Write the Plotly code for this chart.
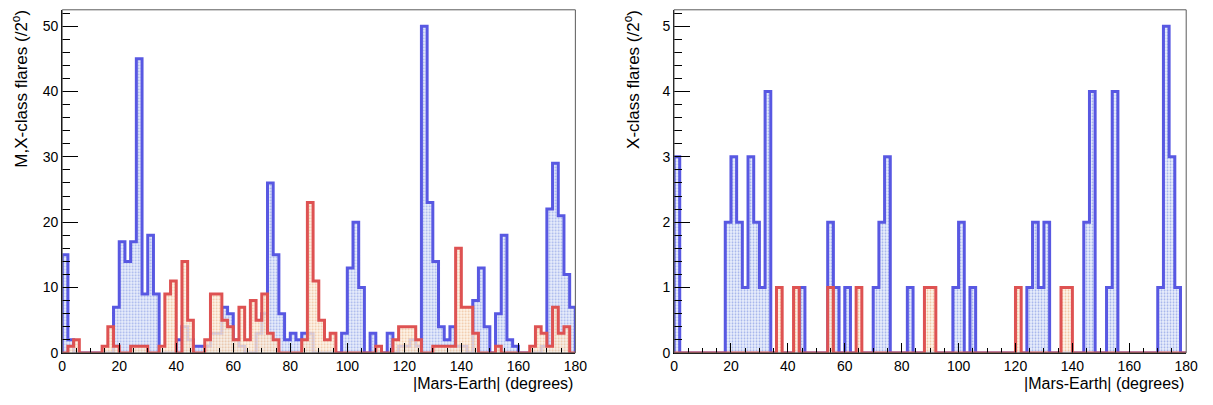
import plotly.graph_objects as go

# 2-degree bins over |Mars-Earth| angle, 0..180
bin_edges = list(range(0, 182, 2))

# Left panel: M,X-class flares per 2 degrees
mx_blue = [15, 2, 0, 0, 0, 0, 0, 0, 0, 7,
           17, 14, 17, 45, 9, 18, 9, 0, 0, 0,
           2, 4, 2, 1, 1, 1, 3, 3, 7, 6,
           2, 1, 0, 0, 3, 6, 26, 15, 6, 2,
           3, 2, 3, 3, 0, 0, 0, 0, 0, 3,
           13, 20, 10, 0, 3, 0, 0, 3, 0, 1,
           1, 2, 1, 50, 23, 14, 4, 2, 4, 1,
           1, 0, 8, 13, 4, 0, 6, 18, 2, 1,
           0, 0, 0, 0, 1, 22, 29, 21, 12, 7]
mx_red = [0, 1, 2, 0, 0, 0, 0, 1, 4, 1,
          0, 0, 1, 1, 1, 0, 0, 1, 9, 11,
          0, 14, 5, 0, 0, 2, 9, 9, 5, 4,
          2, 7, 2, 8, 5, 9, 3, 2, 0, 0,
          0, 0, 2, 23, 11, 5, 2, 3, 0, 0,
          0, 0, 0, 0, 0, 1, 0, 0, 2, 4,
          4, 4, 2, 0, 0, 1, 1, 1, 1, 16,
          7, 7, 3, 0, 0, 0, 1, 0, 0, 0,
          0, 0, 1, 4, 3, 1, 7, 3, 4, 0]

# Right panel: X-class flares per 2 degrees
x_blue = [3, 0, 0, 0, 0, 0, 0, 0, 0, 2,
          3, 2, 1, 3, 2, 1, 4, 0, 0, 0,
          0, 0, 1, 0, 0, 0, 0, 2, 1, 0,
          1, 0, 0, 0, 0, 1, 2, 3, 0, 0,
          0, 1, 0, 0, 0, 0, 0, 0, 0, 1,
          2, 0, 1, 0, 0, 0, 0, 0, 0, 0,
          0, 0, 1, 2, 1, 2, 0, 0, 0, 0,
          0, 0, 2, 4, 0, 0, 1, 4, 0, 0,
          0, 0, 0, 0, 0, 1, 5, 3, 1, 0]
x_red = [0, 0, 0, 0, 0, 0, 0, 0, 0, 0,
         0, 0, 0, 0, 0, 0, 0, 0, 1, 0,
         0, 1, 0, 0, 0, 0, 0, 1, 0, 0,
         0, 0, 1, 0, 0, 0, 0, 0, 0, 0,
         0, 0, 0, 0, 1, 1, 0, 0, 0, 0,
         0, 0, 0, 0, 0, 0, 0, 0, 0, 0,
         1, 0, 0, 0, 0, 0, 0, 0, 1, 1,
         0, 0, 0, 0, 0, 0, 0, 0, 0, 0,
         0, 0, 0, 0, 0, 0, 0, 0, 0, 0]

x_ticks = list(range(0, 181, 20))

BLUE = "rgb(88,88,226)"
RED = "rgb(222,82,82)"
FONT = "Liberation Sans, Arial, sans-serif"


def step_path(values):
    """Outline of a histogram: corners at every bin edge, closed to zero."""
    xs, ys = [bin_edges[0]], [0]
    for i, v in enumerate(values):
        xs += [bin_edges[i], bin_edges[i + 1]]
        ys += [v, v]
    xs.append(bin_edges[-1])
    ys.append(0)
    return xs, ys


def hist_trace(values, line_color, fg, bg, xa, ya):
    xs, ys = step_path(values)
    return go.Scatter(
        x=xs, y=ys, mode="lines", xaxis=xa, yaxis=ya,
        line=dict(color=line_color, width=3),
        fill="tozeroy", fillcolor=bg,
        fillpattern=dict(shape=".", size=3, solidity=0.3,
                         fgcolor=fg, bgcolor=bg, fillmode="replace"),
        hoverinfo="skip", showlegend=False,
    )


BLUE_FG, BLUE_BG = "rgba(150,168,232,0.9)", "rgba(228,234,251,0.75)"
RED_FG, RED_BG = "rgba(238,190,150,0.9)", "rgba(253,241,228,0.75)"

fig = go.Figure()
fig.add_trace(hist_trace(mx_blue, BLUE, BLUE_FG, BLUE_BG, "x", "y"))
fig.add_trace(hist_trace(mx_red, RED, RED_FG, RED_BG, "x", "y"))
fig.add_trace(hist_trace(x_blue, BLUE, BLUE_FG, BLUE_BG, "x2", "y2"))
fig.add_trace(hist_trace(x_red, RED, RED_FG, RED_BG, "x2", "y2"))

W, H = 1213, 405
top_px, bot_px = 10, 360
left_dom = [59 / W, 579 / W]
right_dom = [679 / W, 1198 / W]
ydom = [(H - bot_px) / H, (H - top_px) / H]

xaxis_common = dict(
    range=[0, 180], tickvals=x_ticks, ticktext=[str(t) for t in x_ticks],
    ticks="inside", ticklen=10, tickwidth=1, tickcolor="black",
    minor=dict(dtick=5, ticks="inside", ticklen=5, tickcolor="black"),
    showline=True, linecolor="black", linewidth=1,
    showgrid=False, zeroline=False,
    tickfont=dict(family=FONT, size=14, color="black"),
)
yaxis_common = dict(
    ticks="inside", ticklen=16, tickwidth=1, tickcolor="black",
    showline=True, linecolor="black", linewidth=1,
    showgrid=False, zeroline=False,
    tickfont=dict(family=FONT, size=14, color="black"),
)

fig.update_layout(
    width=W, height=H, margin=dict(l=0, r=0, t=0, b=0),
    paper_bgcolor="white", plot_bgcolor="white",
    xaxis=dict(xaxis_common, domain=left_dom, anchor="y"),
    yaxis=dict(yaxis_common, domain=ydom, anchor="x", range=[0, 52.5],
               tickvals=list(range(0, 51, 10)),
               minor=dict(dtick=2, ticks="inside", ticklen=8, tickcolor="black")),
    xaxis2=dict(xaxis_common, domain=right_dom, anchor="y2"),
    yaxis2=dict(yaxis_common, domain=ydom, anchor="x2", range=[0, 5.25],
                tickvals=list(range(0, 6)),
                minor=dict(dtick=0.2, ticks="inside", ticklen=8, tickcolor="black")),
)

# Frame around each pad
for xr, yr in (("x domain", "y domain"), ("x2 domain", "y2 domain")):
    fig.add_shape(type="rect", xref=xr, yref=yr, x0=0, x1=1, y0=0, y1=1,
                  line=dict(color="rgb(90,90,90)", width=1), layer="above")

# Axis titles
xtitle_font = dict(family=FONT, size=16, color="black")
ytitle_font = dict(family=FONT, size=17, color="black")
for x_right in (579, 1198):
    fig.add_annotation(text="|Mars-Earth| (degrees)", xref="paper", yref="paper",
                       x=x_right / W, y=(H - 391) / H, xanchor="right", yanchor="middle",
                       showarrow=False, font=xtitle_font)
fig.add_annotation(text="M,X-class flares (/2<sup>o</sup>)", xref="paper", yref="paper",
                   x=16 / W, y=(H - 8) / H, xanchor="center", yanchor="top",
                   textangle=-90, showarrow=False, font=ytitle_font)
fig.add_annotation(text="X-class flares (/2<sup>o</sup>)", xref="paper", yref="paper",
                   x=637 / W, y=(H - 8) / H, xanchor="center", yanchor="top",
                   textangle=-90, showarrow=False, font=ytitle_font)

fig.write_html("out.html")
